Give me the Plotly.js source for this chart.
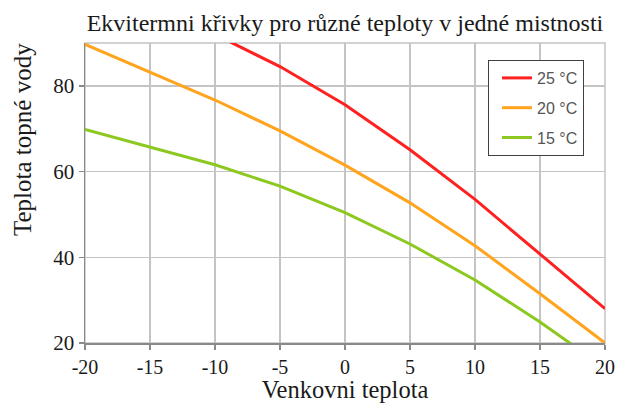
<!DOCTYPE html>
<html>
<head>
<meta charset="utf-8">
<script src="https://cdn.plot.ly/plotly-3.0.1.min.js"></script>
<style>
html,body{margin:0;padding:0;background:#fff;}
#chart{width:622px;height:403px;}
</style>
</head>
<body>
<div id="chart"></div>
<script>
// Outdoor temperature (°C) on the x axis
const outdoorTemp = [-20, -15, -10, -5, 0, 5, 10, 15, 20];
const outdoorTemp25 = [-10, -5, 0, 5, 10, 15, 20];

// Heating water temperature for each room temperature
const water25 = [92.0, 84.5, 75.6, 65.1, 53.5, 40.8, 28.0];
const water20 = [89.7, 83.2, 76.7, 69.5, 61.5, 52.7, 42.7, 31.5, 20.0];
const water15 = [69.8, 65.7, 61.6, 56.6, 50.4, 43.1, 34.7, 24.9, 14.2];

const seriesNames = ['25 °C', '20 °C', '15 °C'];

const xTickVals = [-20, -15, -10, -5, 0, 5, 10, 15, 20];
const xTickText = ['-20', '-15', '-10', '-5', '0', '5', '10', '15', '20'];
const yTickVals = [20, 40, 60, 80];
const yTickText = ['20', '40', '60', '80'];

const chartTitle = 'Ekvitermni křivky pro různé teploty v jedné mistnosti';
const xTitle = 'Venkovni teplota';
const yTitle = 'Teplota topné vody';

const serif = '"Liberation Serif", "Times New Roman", serif';

const traces = [
  {x: outdoorTemp25, y: water25, name: seriesNames[0], legendgroup: 'a', line: {color: '#ff2020', width: 3}},
  {x: outdoorTemp, y: water20, name: seriesNames[1], legendgroup: 'b', line: {color: '#ffa41c', width: 3}},
  {x: outdoorTemp, y: water15, name: seriesNames[2], legendgroup: 'c', line: {color: '#8cc820', width: 3}}
].map(t => Object.assign({type: 'scatter', mode: 'lines', hoverinfo: 'skip'}, t));

const layout = {
  width: 622, height: 403,
  margin: {l: 85, r: 17, t: 43, b: 60, pad: 0},
  paper_bgcolor: '#ffffff', plot_bgcolor: '#ffffff',
  showlegend: true,
  title: {
    text: chartTitle,
    font: {family: serif, size: 24, color: '#1a1a1a'},
    x: 0.5, xref: 'paper', xanchor: 'center',
    y: 1 - 23 / 403, yref: 'container', yanchor: 'middle'
  },
  xaxis: {
    range: [-20, 20],
    tickvals: xTickVals, ticktext: xTickText,
    showgrid: true, gridcolor: '#c4c4c4', gridwidth: 1.5,
    showline: true, linecolor: '#8a8a8a', linewidth: 1.5,
    ticks: 'outside', ticklen: 5, tickcolor: '#8a8a8a', tickwidth: 1.5,
    tickfont: {family: serif, size: 20, color: '#1a1a1a'},
    zeroline: false, fixedrange: true,
    title: {text: xTitle, font: {family: serif, size: 24.5, color: '#1a1a1a'}, standoff: 6}
  },
  yaxis: {
    range: [20, 90],
    tickvals: yTickVals, ticktext: yTickText,
    showgrid: true, gridcolor: '#c4c4c4', gridwidth: 1.5,
    showline: true, linecolor: '#8a8a8a', linewidth: 1.5,
    ticks: 'outside', ticklen: 5, tickcolor: '#8a8a8a', tickwidth: 1.5,
    tickfont: {family: serif, size: 21, color: '#1a1a1a'},
    zeroline: false, fixedrange: true
  },
  shapes: [{
    type: 'rect', xref: 'paper', yref: 'paper', x0: 0, x1: 1, y0: 0, y1: 1,
    line: {color: '#c4c4c4', width: 1.5}, layer: 'below'
  }],
  annotations: [{
    text: yTitle, textangle: -90,
    xref: 'paper', yref: 'paper',
    x: -63 / 520, y: (343 - 140) / 300,
    xanchor: 'center', yanchor: 'middle', showarrow: false,
    font: {family: serif, size: 25, color: '#1a1a1a'}
  }],
  legend: {
    x: (488 - 85) / 520, y: (343 - 60) / 300, xanchor: 'left', yanchor: 'top',
    bgcolor: '#ffffff', bordercolor: '#404040', borderwidth: 1,
    tracegroupgap: 6, indentation: 8,
    font: {family: '"Liberation Sans", Arial, sans-serif', size: 16, color: '#555555'}
  }
};

Plotly.newPlot('chart', traces, layout, {displayModeBar: false, staticPlot: true});
</script>
</body>
</html>
